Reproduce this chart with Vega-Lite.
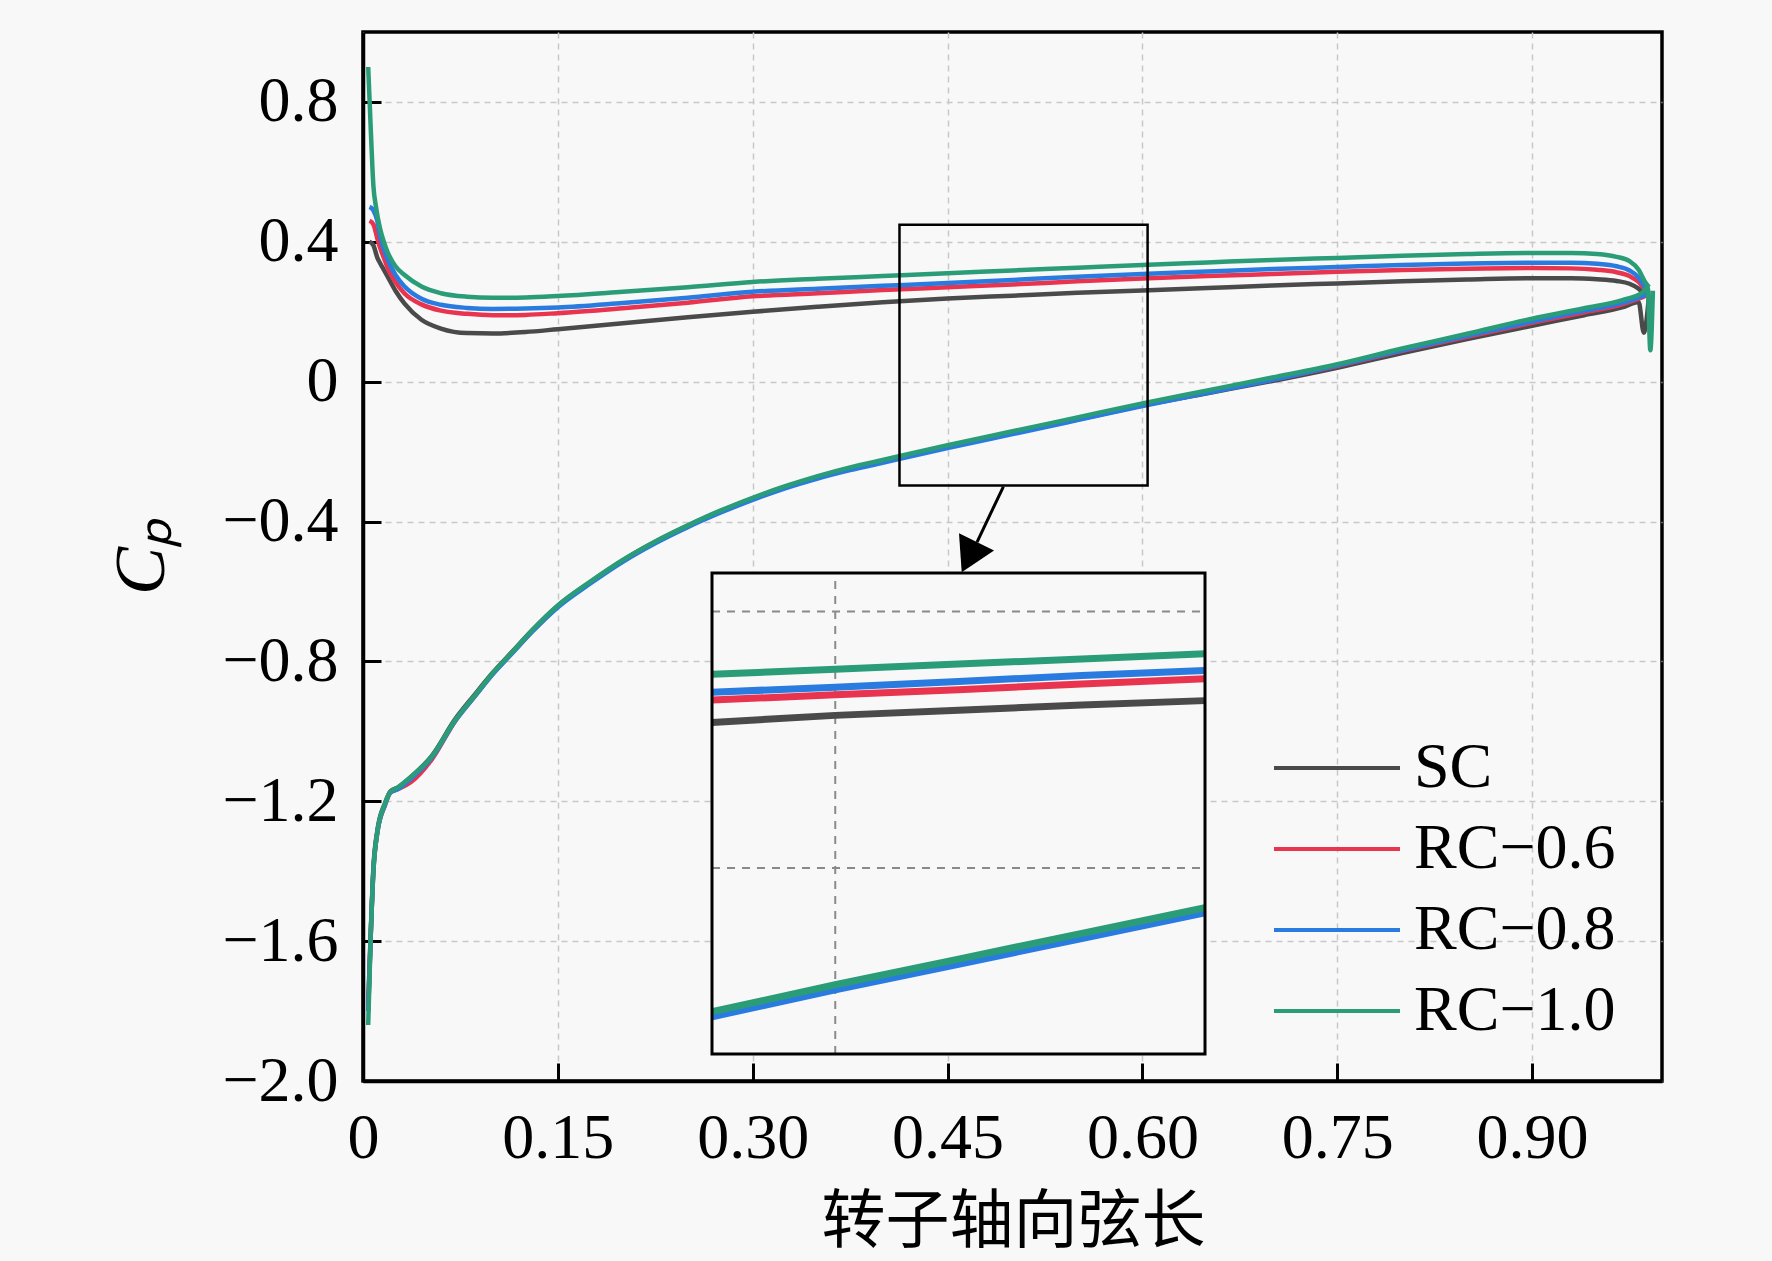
{
  "$schema": "https://vega.github.io/schema/vega-lite/v6.json",
  "width": 1299,
  "height": 1049,
  "autosize": "none",
  "padding": {"left": 363, "top": 32, "right": 110, "bottom": 180},
  "background": "#f8f8f8",
  "config": {
    "font": "Liberation Serif",
    "view": {"stroke": "black", "strokeWidth": 3.5},
    "axis": {
      "labelFont": "Liberation Serif",
      "labelFontSize": 64,
      "labelColor": "black",
      "labelFlush": false,
      "labelOverlap": false,
      "domainColor": "black",
      "domainWidth": 3.5,
      "tickColor": "black",
      "tickWidth": 3,
      "tickSize": -18,
      "grid": true,
      "gridColor": "#c8c8c8",
      "gridDash": [6, 5],
      "gridWidth": 1.5
    }
  },
  "datasets": {
    "cp": [
      {"s":"SC","p":"u","x":0.005,"y":0.40},{"s":"SC","p":"u","x":0.008,"y":0.39},{"s":"SC","p":"u","x":0.011,"y":0.355},{"s":"SC","p":"u","x":0.013,"y":0.34},
      {"s":"SC","p":"u","x":0.016,"y":0.32},{"s":"SC","p":"u","x":0.019,"y":0.30},{"s":"SC","p":"u","x":0.025,"y":0.26},{"s":"SC","p":"u","x":0.032,"y":0.223},
      {"s":"SC","p":"u","x":0.045,"y":0.177},{"s":"SC","p":"u","x":0.06,"y":0.152},{"s":"SC","p":"u","x":0.08,"y":0.139},{"s":"SC","p":"u","x":0.1,"y":0.138},
      {"s":"SC","p":"u","x":0.125,"y":0.142},{"s":"SC","p":"u","x":0.15,"y":0.15},{"s":"SC","p":"u","x":0.2,"y":0.167},{"s":"SC","p":"u","x":0.25,"y":0.184},
      {"s":"SC","p":"u","x":0.3,"y":0.2},{"s":"SC","p":"u","x":0.35,"y":0.214},{"s":"SC","p":"u","x":0.4,"y":0.227},{"s":"SC","p":"u","x":0.45,"y":0.238},
      {"s":"SC","p":"u","x":0.5,"y":0.246},{"s":"SC","p":"u","x":0.55,"y":0.254},{"s":"SC","p":"u","x":0.6,"y":0.261},{"s":"SC","p":"u","x":0.65,"y":0.268},
      {"s":"SC","p":"u","x":0.7,"y":0.275},{"s":"SC","p":"u","x":0.75,"y":0.281},{"s":"SC","p":"u","x":0.8,"y":0.287},{"s":"SC","p":"u","x":0.85,"y":0.292},
      {"s":"SC","p":"u","x":0.9,"y":0.296},{"s":"SC","p":"u","x":0.93,"y":0.296},{"s":"SC","p":"u","x":0.95,"y":0.293},{"s":"SC","p":"u","x":0.965,"y":0.288},
      {"s":"SC","p":"u","x":0.975,"y":0.28},{"s":"SC","p":"u","x":0.982,"y":0.266},{"s":"SC","p":"u","x":0.987,"y":0.25},{"s":"SC","p":"u","x":0.99,"y":0.245},
      {"s":"SC","p":"l","x":0.004,"y":-1.78},{"s":"SC","p":"l","x":0.006,"y":-1.57},{"s":"SC","p":"l","x":0.008,"y":-1.39},{"s":"SC","p":"l","x":0.011,"y":-1.285},
      {"s":"SC","p":"l","x":0.017,"y":-1.205},{"s":"SC","p":"l","x":0.021,"y":-1.172},{"s":"SC","p":"l","x":0.027,"y":-1.16},{"s":"SC","p":"l","x":0.037,"y":-1.13},
      {"s":"SC","p":"l","x":0.053,"y":-1.07},{"s":"SC","p":"l","x":0.071,"y":-0.965},{"s":"SC","p":"l","x":0.086,"y":-0.895},{"s":"SC","p":"l","x":0.1,"y":-0.832},
      {"s":"SC","p":"l","x":0.115,"y":-0.772},{"s":"SC","p":"l","x":0.13,"y":-0.712},{"s":"SC","p":"l","x":0.15,"y":-0.641},{"s":"SC","p":"l","x":0.175,"y":-0.573},
      {"s":"SC","p":"l","x":0.2,"y":-0.511},{"s":"SC","p":"l","x":0.225,"y":-0.458},{"s":"SC","p":"l","x":0.25,"y":-0.412},{"s":"SC","p":"l","x":0.275,"y":-0.371},
      {"s":"SC","p":"l","x":0.3,"y":-0.334},{"s":"SC","p":"l","x":0.325,"y":-0.301},{"s":"SC","p":"l","x":0.35,"y":-0.273},{"s":"SC","p":"l","x":0.375,"y":-0.249},
      {"s":"SC","p":"l","x":0.4,"y":-0.228},{"s":"SC","p":"l","x":0.45,"y":-0.187},{"s":"SC","p":"l","x":0.5,"y":-0.147},{"s":"SC","p":"l","x":0.55,"y":-0.108},
      {"s":"SC","p":"l","x":0.6,"y":-0.068},{"s":"SC","p":"l","x":0.65,"y":-0.033},{"s":"SC","p":"l","x":0.7,"y":0.002},{"s":"SC","p":"l","x":0.75,"y":0.04},
      {"s":"SC","p":"l","x":0.8,"y":0.082},{"s":"SC","p":"l","x":0.85,"y":0.122},{"s":"SC","p":"l","x":0.9,"y":0.16},{"s":"SC","p":"l","x":0.94,"y":0.19},
      {"s":"SC","p":"l","x":0.97,"y":0.213},{"s":"SC","p":"l","x":0.982,"y":0.228},{"s":"SC","p":"l","x":0.986,"y":0.14},{"s":"SC","p":"l","x":0.99,"y":0.245},

      {"s":"RC−0.6","p":"u","x":0.005,"y":0.46},{"s":"RC−0.6","p":"u","x":0.008,"y":0.45},{"s":"RC−0.6","p":"u","x":0.011,"y":0.41},{"s":"RC−0.6","p":"u","x":0.013,"y":0.385},
      {"s":"RC−0.6","p":"u","x":0.016,"y":0.355},{"s":"RC−0.6","p":"u","x":0.019,"y":0.325},{"s":"RC−0.6","p":"u","x":0.025,"y":0.285},{"s":"RC−0.6","p":"u","x":0.032,"y":0.252},
      {"s":"RC−0.6","p":"u","x":0.045,"y":0.221},{"s":"RC−0.6","p":"u","x":0.06,"y":0.203},{"s":"RC−0.6","p":"u","x":0.08,"y":0.194},{"s":"RC−0.6","p":"u","x":0.1,"y":0.19},
      {"s":"RC−0.6","p":"u","x":0.125,"y":0.191},{"s":"RC−0.6","p":"u","x":0.15,"y":0.196},{"s":"RC−0.6","p":"u","x":0.2,"y":0.21},{"s":"RC−0.6","p":"u","x":0.25,"y":0.226},
      {"s":"RC−0.6","p":"u","x":0.3,"y":0.244},{"s":"RC−0.6","p":"u","x":0.35,"y":0.253},{"s":"RC−0.6","p":"u","x":0.4,"y":0.262},{"s":"RC−0.6","p":"u","x":0.45,"y":0.27},
      {"s":"RC−0.6","p":"u","x":0.5,"y":0.278},{"s":"RC−0.6","p":"u","x":0.55,"y":0.287},{"s":"RC−0.6","p":"u","x":0.6,"y":0.295},{"s":"RC−0.6","p":"u","x":0.65,"y":0.302},
      {"s":"RC−0.6","p":"u","x":0.7,"y":0.308},{"s":"RC−0.6","p":"u","x":0.75,"y":0.314},{"s":"RC−0.6","p":"u","x":0.8,"y":0.319},{"s":"RC−0.6","p":"u","x":0.85,"y":0.323},
      {"s":"RC−0.6","p":"u","x":0.9,"y":0.325},{"s":"RC−0.6","p":"u","x":0.93,"y":0.324},{"s":"RC−0.6","p":"u","x":0.95,"y":0.32},{"s":"RC−0.6","p":"u","x":0.965,"y":0.313},
      {"s":"RC−0.6","p":"u","x":0.975,"y":0.302},{"s":"RC−0.6","p":"u","x":0.982,"y":0.285},{"s":"RC−0.6","p":"u","x":0.987,"y":0.262},{"s":"RC−0.6","p":"u","x":0.99,"y":0.25},
      {"s":"RC−0.6","p":"l","x":0.004,"y":-1.80},{"s":"RC−0.6","p":"l","x":0.006,"y":-1.58},{"s":"RC−0.6","p":"l","x":0.008,"y":-1.40},{"s":"RC−0.6","p":"l","x":0.011,"y":-1.29},
      {"s":"RC−0.6","p":"l","x":0.017,"y":-1.21},{"s":"RC−0.6","p":"l","x":0.021,"y":-1.175},{"s":"RC−0.6","p":"l","x":0.027,"y":-1.165},{"s":"RC−0.6","p":"l","x":0.037,"y":-1.145},
      {"s":"RC−0.6","p":"l","x":0.053,"y":-1.08},{"s":"RC−0.6","p":"l","x":0.071,"y":-0.97},{"s":"RC−0.6","p":"l","x":0.086,"y":-0.90},{"s":"RC−0.6","p":"l","x":0.1,"y":-0.835},
      {"s":"RC−0.6","p":"l","x":0.115,"y":-0.775},{"s":"RC−0.6","p":"l","x":0.13,"y":-0.715},{"s":"RC−0.6","p":"l","x":0.15,"y":-0.643},{"s":"RC−0.6","p":"l","x":0.175,"y":-0.575},
      {"s":"RC−0.6","p":"l","x":0.2,"y":-0.513},{"s":"RC−0.6","p":"l","x":0.225,"y":-0.46},{"s":"RC−0.6","p":"l","x":0.25,"y":-0.414},{"s":"RC−0.6","p":"l","x":0.275,"y":-0.372},
      {"s":"RC−0.6","p":"l","x":0.3,"y":-0.335},{"s":"RC−0.6","p":"l","x":0.325,"y":-0.302},{"s":"RC−0.6","p":"l","x":0.35,"y":-0.273},{"s":"RC−0.6","p":"l","x":0.375,"y":-0.249},
      {"s":"RC−0.6","p":"l","x":0.4,"y":-0.229},{"s":"RC−0.6","p":"l","x":0.45,"y":-0.187},{"s":"RC−0.6","p":"l","x":0.5,"y":-0.147},{"s":"RC−0.6","p":"l","x":0.55,"y":-0.107},
      {"s":"RC−0.6","p":"l","x":0.6,"y":-0.067},{"s":"RC−0.6","p":"l","x":0.65,"y":-0.03},{"s":"RC−0.6","p":"l","x":0.7,"y":0.006},{"s":"RC−0.6","p":"l","x":0.75,"y":0.045},
      {"s":"RC−0.6","p":"l","x":0.8,"y":0.088},{"s":"RC−0.6","p":"l","x":0.85,"y":0.128},{"s":"RC−0.6","p":"l","x":0.9,"y":0.168},{"s":"RC−0.6","p":"l","x":0.94,"y":0.198},
      {"s":"RC−0.6","p":"l","x":0.97,"y":0.222},{"s":"RC−0.6","p":"l","x":0.985,"y":0.242},{"s":"RC−0.6","p":"l","x":0.99,"y":0.25},

      {"s":"RC−0.8","p":"u","x":0.005,"y":0.50},{"s":"RC−0.8","p":"u","x":0.008,"y":0.49},{"s":"RC−0.8","p":"u","x":0.011,"y":0.46},{"s":"RC−0.8","p":"u","x":0.013,"y":0.42},
      {"s":"RC−0.8","p":"u","x":0.016,"y":0.38},{"s":"RC−0.8","p":"u","x":0.019,"y":0.35},{"s":"RC−0.8","p":"u","x":0.025,"y":0.305},{"s":"RC−0.8","p":"u","x":0.032,"y":0.272},
      {"s":"RC−0.8","p":"u","x":0.045,"y":0.237},{"s":"RC−0.8","p":"u","x":0.06,"y":0.22},{"s":"RC−0.8","p":"u","x":0.08,"y":0.211},{"s":"RC−0.8","p":"u","x":0.1,"y":0.208},
      {"s":"RC−0.8","p":"u","x":0.125,"y":0.209},{"s":"RC−0.8","p":"u","x":0.15,"y":0.212},{"s":"RC−0.8","p":"u","x":0.2,"y":0.225},{"s":"RC−0.8","p":"u","x":0.25,"y":0.24},
      {"s":"RC−0.8","p":"u","x":0.3,"y":0.257},{"s":"RC−0.8","p":"u","x":0.35,"y":0.266},{"s":"RC−0.8","p":"u","x":0.4,"y":0.274},{"s":"RC−0.8","p":"u","x":0.45,"y":0.282},
      {"s":"RC−0.8","p":"u","x":0.5,"y":0.291},{"s":"RC−0.8","p":"u","x":0.55,"y":0.3},{"s":"RC−0.8","p":"u","x":0.6,"y":0.308},{"s":"RC−0.8","p":"u","x":0.65,"y":0.315},
      {"s":"RC−0.8","p":"u","x":0.7,"y":0.322},{"s":"RC−0.8","p":"u","x":0.75,"y":0.328},{"s":"RC−0.8","p":"u","x":0.8,"y":0.334},{"s":"RC−0.8","p":"u","x":0.85,"y":0.338},
      {"s":"RC−0.8","p":"u","x":0.9,"y":0.34},{"s":"RC−0.8","p":"u","x":0.93,"y":0.34},{"s":"RC−0.8","p":"u","x":0.95,"y":0.337},{"s":"RC−0.8","p":"u","x":0.965,"y":0.33},
      {"s":"RC−0.8","p":"u","x":0.975,"y":0.318},{"s":"RC−0.8","p":"u","x":0.982,"y":0.298},{"s":"RC−0.8","p":"u","x":0.987,"y":0.27},{"s":"RC−0.8","p":"u","x":0.99,"y":0.255},
      {"s":"RC−0.8","p":"l","x":0.004,"y":-1.80},{"s":"RC−0.8","p":"l","x":0.006,"y":-1.58},{"s":"RC−0.8","p":"l","x":0.008,"y":-1.40},{"s":"RC−0.8","p":"l","x":0.011,"y":-1.29},
      {"s":"RC−0.8","p":"l","x":0.017,"y":-1.21},{"s":"RC−0.8","p":"l","x":0.021,"y":-1.175},{"s":"RC−0.8","p":"l","x":0.027,"y":-1.165},{"s":"RC−0.8","p":"l","x":0.037,"y":-1.135},
      {"s":"RC−0.8","p":"l","x":0.053,"y":-1.075},{"s":"RC−0.8","p":"l","x":0.071,"y":-0.97},{"s":"RC−0.8","p":"l","x":0.086,"y":-0.90},{"s":"RC−0.8","p":"l","x":0.1,"y":-0.836},
      {"s":"RC−0.8","p":"l","x":0.115,"y":-0.776},{"s":"RC−0.8","p":"l","x":0.13,"y":-0.716},{"s":"RC−0.8","p":"l","x":0.15,"y":-0.645},{"s":"RC−0.8","p":"l","x":0.175,"y":-0.577},
      {"s":"RC−0.8","p":"l","x":0.2,"y":-0.515},{"s":"RC−0.8","p":"l","x":0.225,"y":-0.462},{"s":"RC−0.8","p":"l","x":0.25,"y":-0.416},{"s":"RC−0.8","p":"l","x":0.275,"y":-0.375},
      {"s":"RC−0.8","p":"l","x":0.3,"y":-0.338},{"s":"RC−0.8","p":"l","x":0.325,"y":-0.305},{"s":"RC−0.8","p":"l","x":0.35,"y":-0.277},{"s":"RC−0.8","p":"l","x":0.375,"y":-0.253},
      {"s":"RC−0.8","p":"l","x":0.4,"y":-0.232},{"s":"RC−0.8","p":"l","x":0.45,"y":-0.19},{"s":"RC−0.8","p":"l","x":0.5,"y":-0.15},{"s":"RC−0.8","p":"l","x":0.55,"y":-0.11},
      {"s":"RC−0.8","p":"l","x":0.6,"y":-0.07},{"s":"RC−0.8","p":"l","x":0.65,"y":-0.032},{"s":"RC−0.8","p":"l","x":0.7,"y":0.005},{"s":"RC−0.8","p":"l","x":0.75,"y":0.046},
      {"s":"RC−0.8","p":"l","x":0.8,"y":0.09},{"s":"RC−0.8","p":"l","x":0.85,"y":0.131},{"s":"RC−0.8","p":"l","x":0.9,"y":0.172},{"s":"RC−0.8","p":"l","x":0.94,"y":0.203},
      {"s":"RC−0.8","p":"l","x":0.97,"y":0.226},{"s":"RC−0.8","p":"l","x":0.985,"y":0.245},{"s":"RC−0.8","p":"l","x":0.99,"y":0.255},

      {"s":"RC−1.0","p":"u","x":0.004,"y":0.90},{"s":"RC−1.0","p":"u","x":0.006,"y":0.72},{"s":"RC−1.0","p":"u","x":0.008,"y":0.56},{"s":"RC−1.0","p":"u","x":0.01,"y":0.50},
      {"s":"RC−1.0","p":"u","x":0.013,"y":0.44},{"s":"RC−1.0","p":"u","x":0.016,"y":0.40},{"s":"RC−1.0","p":"u","x":0.019,"y":0.37},{"s":"RC−1.0","p":"u","x":0.025,"y":0.33},
      {"s":"RC−1.0","p":"u","x":0.032,"y":0.305},{"s":"RC−1.0","p":"u","x":0.045,"y":0.272},{"s":"RC−1.0","p":"u","x":0.06,"y":0.253},{"s":"RC−1.0","p":"u","x":0.08,"y":0.243},
      {"s":"RC−1.0","p":"u","x":0.1,"y":0.24},{"s":"RC−1.0","p":"u","x":0.125,"y":0.241},{"s":"RC−1.0","p":"u","x":0.15,"y":0.245},{"s":"RC−1.0","p":"u","x":0.2,"y":0.257},
      {"s":"RC−1.0","p":"u","x":0.25,"y":0.27},{"s":"RC−1.0","p":"u","x":0.3,"y":0.285},{"s":"RC−1.0","p":"u","x":0.35,"y":0.294},{"s":"RC−1.0","p":"u","x":0.4,"y":0.302},
      {"s":"RC−1.0","p":"u","x":0.45,"y":0.31},{"s":"RC−1.0","p":"u","x":0.5,"y":0.318},{"s":"RC−1.0","p":"u","x":0.55,"y":0.326},{"s":"RC−1.0","p":"u","x":0.6,"y":0.334},
      {"s":"RC−1.0","p":"u","x":0.65,"y":0.341},{"s":"RC−1.0","p":"u","x":0.7,"y":0.348},{"s":"RC−1.0","p":"u","x":0.75,"y":0.354},{"s":"RC−1.0","p":"u","x":0.8,"y":0.36},
      {"s":"RC−1.0","p":"u","x":0.85,"y":0.365},{"s":"RC−1.0","p":"u","x":0.9,"y":0.368},{"s":"RC−1.0","p":"u","x":0.93,"y":0.368},{"s":"RC−1.0","p":"u","x":0.95,"y":0.365},
      {"s":"RC−1.0","p":"u","x":0.965,"y":0.357},{"s":"RC−1.0","p":"u","x":0.975,"y":0.345},{"s":"RC−1.0","p":"u","x":0.982,"y":0.32},{"s":"RC−1.0","p":"u","x":0.987,"y":0.285},
      {"s":"RC−1.0","p":"u","x":0.99,"y":0.27},
      {"s":"RC−1.0","p":"l","x":0.004,"y":-1.84},{"s":"RC−1.0","p":"l","x":0.006,"y":-1.58},{"s":"RC−1.0","p":"l","x":0.008,"y":-1.40},{"s":"RC−1.0","p":"l","x":0.011,"y":-1.29},
      {"s":"RC−1.0","p":"l","x":0.017,"y":-1.206},{"s":"RC−1.0","p":"l","x":0.021,"y":-1.174},{"s":"RC−1.0","p":"l","x":0.027,"y":-1.16},{"s":"RC−1.0","p":"l","x":0.037,"y":-1.13},
      {"s":"RC−1.0","p":"l","x":0.053,"y":-1.072},{"s":"RC−1.0","p":"l","x":0.071,"y":-0.968},{"s":"RC−1.0","p":"l","x":0.086,"y":-0.898},{"s":"RC−1.0","p":"l","x":0.1,"y":-0.833},
      {"s":"RC−1.0","p":"l","x":0.115,"y":-0.773},{"s":"RC−1.0","p":"l","x":0.13,"y":-0.712},{"s":"RC−1.0","p":"l","x":0.15,"y":-0.64},{"s":"RC−1.0","p":"l","x":0.175,"y":-0.572},
      {"s":"RC−1.0","p":"l","x":0.2,"y":-0.51},{"s":"RC−1.0","p":"l","x":0.225,"y":-0.457},{"s":"RC−1.0","p":"l","x":0.25,"y":-0.411},{"s":"RC−1.0","p":"l","x":0.275,"y":-0.369},
      {"s":"RC−1.0","p":"l","x":0.3,"y":-0.332},{"s":"RC−1.0","p":"l","x":0.325,"y":-0.299},{"s":"RC−1.0","p":"l","x":0.35,"y":-0.27},{"s":"RC−1.0","p":"l","x":0.375,"y":-0.245},
      {"s":"RC−1.0","p":"l","x":0.4,"y":-0.224},{"s":"RC−1.0","p":"l","x":0.45,"y":-0.182},{"s":"RC−1.0","p":"l","x":0.5,"y":-0.142},{"s":"RC−1.0","p":"l","x":0.55,"y":-0.102},
      {"s":"RC−1.0","p":"l","x":0.6,"y":-0.062},{"s":"RC−1.0","p":"l","x":0.65,"y":-0.025},{"s":"RC−1.0","p":"l","x":0.7,"y":0.012},{"s":"RC−1.0","p":"l","x":0.75,"y":0.05},
      {"s":"RC−1.0","p":"l","x":0.8,"y":0.095},{"s":"RC−1.0","p":"l","x":0.85,"y":0.137},{"s":"RC−1.0","p":"l","x":0.9,"y":0.18},{"s":"RC−1.0","p":"l","x":0.94,"y":0.21},
      {"s":"RC−1.0","p":"l","x":0.97,"y":0.234},{"s":"RC−1.0","p":"l","x":0.985,"y":0.255},{"s":"RC−1.0","p":"l","x":0.989,"y":0.27},{"s":"RC−1.0","p":"l","x":0.991,"y":0.09},
      {"s":"RC−1.0","p":"l","x":0.993,"y":0.26}
    ]
  },
  "layer": [
    {
      "layer": [
        {
          "data": {"name": "cp"},
          "mark": {"type": "line", "strokeWidth": 4.5, "interpolate": "monotone"},
          "encoding": {
            "x": {
              "field": "x", "type": "quantitative",
              "scale": {"domain": [0, 1], "nice": false, "zero": false},
              "axis": {
                "values": [0, 0.15, 0.3, 0.45, 0.6, 0.75, 0.9],
                "labelExpr": "datum.value == 0 ? '0' : format(datum.value, '.2f')",
                "labelPadding": 43,
                "title": "转子轴向弦长",
                "titleFont": "Noto Sans CJK SC",
                "titleFontSize": 64,
                "titleFontWeight": "normal",
                "titleColor": "black",
                "titleX": 650,
                "titleY": 160,
                "titleBaseline": "alphabetic"
              }
            },
            "y": {
              "field": "y", "type": "quantitative",
              "scale": {"domain": [-2, 1], "nice": false, "zero": false},
              "axis": {
                "values": [-2, -1.6, -1.2, -0.8, -0.4, 0, 0.4, 0.8],
                "labelExpr": "datum.value == 0 ? '0' : format(datum.value, '.1f')",
                "labelPadding": 43,
                "title": "Cₚ",
                "titleFont": "Liberation Serif",
                "titleFontStyle": "italic",
                "titleFontSize": 72,
                "titleFontWeight": "normal",
                "titleColor": "black",
                "titleX": -200,
                "titleY": 524,
                "titleAngle": -90,
                "titleBaseline": "alphabetic"
              }
            },
            "color": {
              "field": "s", "type": "nominal",
              "scale": {
                "domain": ["SC", "RC−0.6", "RC−0.8", "RC−1.0"],
                "range": ["#4a4a4a", "#e8344e", "#2a7be0", "#2a9d78"]
              },
              "legend": {
                "title": null,
                "orient": "none",
                "legendX": 909,
                "legendY": 705,
                "symbolType": "stroke",
                "symbolSize": 15876,
                "symbolStrokeWidth": 4,
                "clipHeight": 62,
                "rowPadding": 17,
                "labelOffset": 12,
                "labelLimit": 0,
                "labelFont": "Liberation Serif",
                "labelFontSize": 64,
                "labelColor": "black"
              }
            },
            "detail": {"field": "p"}
          }
        },
        {
          "data": {"values": [{}]},
          "mark": {"type": "rect", "fill": null, "stroke": "black", "strokeWidth": 2.5},
          "encoding": {
            "x": {"datum": 0.413}, "x2": {"datum": 0.604},
            "y": {"datum": -0.297}, "y2": {"datum": 0.449}
          }
        },
        {
          "data": {"values": [{}]},
          "mark": {"type": "rule", "stroke": "black", "strokeWidth": 3},
          "encoding": {
            "x": {"datum": 0.493}, "x2": {"datum": 0.4727},
            "y": {"datum": -0.3}, "y2": {"datum": -0.4586}
          }
        },
        {
          "data": {"values": [{}]},
          "mark": {"type": "point", "shape": "triangle-down", "size": 1521, "angle": 26, "filled": true, "fill": "black", "opacity": 1},
          "encoding": {
            "x": {"datum": 0.4666},
            "y": {"datum": -0.5017}
          }
        }
      ]
    },
    {
      "layer": [
        {
          "data": {"values": [{}]},
          "mark": {"type": "rect", "fill": "#f8f8f8"},
          "encoding": {
            "x": {"datum": 0.4, "scale": {"domain": [0.4, 0.6], "range": [349, 842], "nice": false, "zero": false}, "axis": null},
            "x2": {"datum": 0.6},
            "y": {"datum": -0.29, "scale": {"domain": [-0.29, 0.46], "range": [1022, 541], "nice": false, "zero": false}, "axis": null},
            "y2": {"datum": 0.46}
          }
        },
        {
          "data": {"values": [{"g": 0.45}, {"g": 0.6}]},
          "mark": {"type": "rule", "stroke": "#8a8a8a", "strokeWidth": 2, "strokeDash": [8, 7]},
          "encoding": {
            "x": {"field": "g", "type": "quantitative", "axis": null},
            "y": {"datum": -0.29, "axis": null},
            "y2": {"datum": 0.46}
          }
        },
        {
          "data": {"values": [{"h": 0.4}, {"h": 0}]},
          "mark": {"type": "rule", "stroke": "#8a8a8a", "strokeWidth": 2, "strokeDash": [8, 7]},
          "encoding": {
            "y": {"field": "h", "type": "quantitative", "axis": null},
            "x": {"datum": 0.4, "axis": null},
            "x2": {"datum": 0.6}
          }
        },
        {
          "data": {"name": "cp"},
          "transform": [{"filter": "datum.x >= 0.4 && datum.x <= 0.6"}],
          "mark": {"type": "line", "strokeWidth": 7},
          "encoding": {
            "x": {"field": "x", "type": "quantitative", "axis": null},
            "y": {"field": "y", "type": "quantitative", "axis": null},
            "color": {"field": "s", "type": "nominal"},
            "detail": {"field": "p"}
          }
        },
        {
          "data": {"values": [{}]},
          "mark": {"type": "rect", "fill": null, "stroke": "black", "strokeWidth": 3},
          "encoding": {
            "x": {"datum": 0.4}, "x2": {"datum": 0.6},
            "y": {"datum": -0.29}, "y2": {"datum": 0.46}
          }
        }
      ]
    }
  ],
  "resolve": {"scale": {"x": "independent", "y": "independent"}}
}
